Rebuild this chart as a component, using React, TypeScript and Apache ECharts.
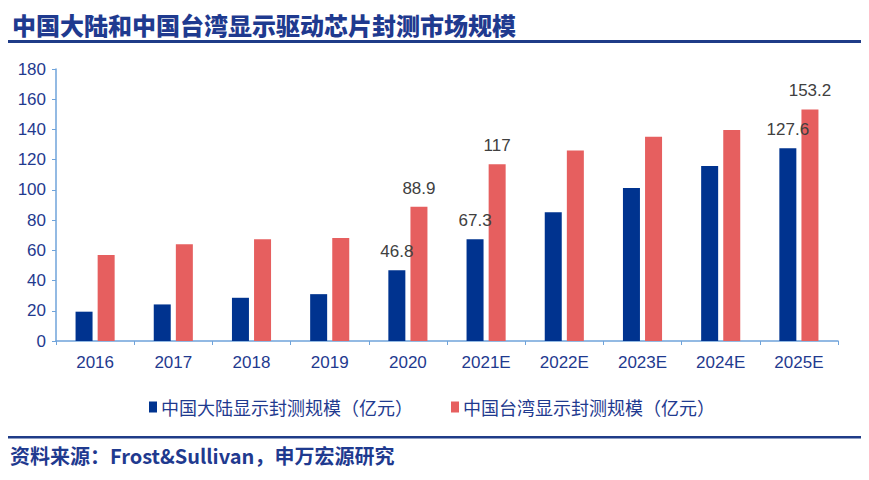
import React, { useEffect, useRef } from "react";
import * as echarts from "echarts";

const categories = ["2016", "2017", "2018", "2019", "2020", "2021E", "2022E", "2023E", "2024E", "2025E"];
const mainlandValues = [19.4, 24.2, 28.6, 31, 46.8, 67.3, 85.2, 101.3, 115.8, 127.6];
const taiwanValues = [56.9, 64, 67.3, 68.2, 88.9, 117, 126, 135.2, 139.6, 153.2];
const labeledIndices = [4, 5, 9];
const seriesNames = ["中国大陆显示封测规模（亿元）", "中国台湾显示封测规模（亿元）"];
const yTicks = { min: 0, max: 180, interval: 20 };
const titleText = "中国大陆和中国台湾显示驱动芯片封测市场规模";
const sourceText = "资料来源：Frost&Sullivan，申万宏源研究";

const BLUE = "#00338F";
const RED = "#E65F5F";
const TEXT_BLUE = "#1F3A8F";
const AXIS = "#6FA3DA";

export default function App() {
  const ref = useRef<HTMLDivElement>(null);
  useEffect(() => {
    if (!ref.current) return;
    const chart = echarts.init(ref.current, null, { renderer: "svg" });
    const mk = (vals: number[]) =>
      vals.map((v, i) => ({
        value: v,
        label: { show: labeledIndices.includes(i) },
      }));
    const labelStyle = {
      position: "top",
      distance: 10,
      color: "#404040",
      fontSize: 17,
      fontFamily: "Liberation Sans, Arial, sans-serif",
    };
    chart.setOption({
      animation: false,
      backgroundColor: "#fff",
      grid: { left: 56, right: 31, top: 69, bottom: 139 },
      title: {
        text: titleText,
        left: 7,
        top: 7,
        textStyle: {
          color: TEXT_BLUE,
          fontSize: 24,
          fontWeight: 900,
          fontFamily: "Noto Sans CJK SC",
        },
      },
      legend: {
        left: 144,
        top: 393,
        itemWidth: 8,
        itemHeight: 11,
        itemGap: 38,
        icon: "rect",
        textStyle: {
          color: TEXT_BLUE,
          fontSize: 18,
          fontFamily: "Noto Sans CJK SC",
          padding: [0, 0, 0, -1],
        },
        data: seriesNames,
      },
      xAxis: {
        type: "category",
        data: categories,
        axisLine: { lineStyle: { color: AXIS, width: 1.5 } },
        axisTick: { show: true, length: 4, lineStyle: { color: AXIS } },
        axisLabel: {
          color: TEXT_BLUE,
          fontSize: 17,
          margin: 13,
          fontFamily: "Liberation Sans, Arial, sans-serif",
        },
      },
      yAxis: {
        type: "value",
        min: yTicks.min,
        max: yTicks.max,
        interval: yTicks.interval,
        splitLine: { show: false },
        axisLine: { show: true, lineStyle: { color: AXIS, width: 1.5 } },
        axisTick: { show: true, length: 4, lineStyle: { color: AXIS } },
        axisLabel: {
          color: TEXT_BLUE,
          fontSize: 17,
          margin: 10,
          fontFamily: "Liberation Sans, Arial, sans-serif",
        },
      },
      series: [
        {
          name: seriesNames[0],
          type: "bar",
          barWidth: 17,
          barGap: "30%",
          itemStyle: { color: BLUE },
          label: labelStyle,
          data: mk(mainlandValues),
          z: 3,
        },
        {
          name: seriesNames[1],
          type: "bar",
          barWidth: 17,
          barGap: "30%",
          itemStyle: { color: RED },
          label: labelStyle,
          data: mk(taiwanValues),
          z: 2,
        },
      ],
      graphic: [
        {
          type: "rect",
          left: 0,
          top: 40,
          shape: { width: 869, height: 3 },
          style: { fill: "#1F3C88" },
        },
        {
          type: "rect",
          left: 0,
          top: 436,
          shape: { width: 869, height: 2.5 },
          style: { fill: "#1F3C88" },
        },
        {
          type: "text",
          left: 10,
          top: 445,
          style: {
            text: sourceText,
            fill: TEXT_BLUE,
            fontSize: 20,
            fontWeight: "bold",
            fontFamily: "Noto Sans CJK SC",
          },
        },
      ],
    });
    return () => chart.dispose();
  }, []);
  return <div ref={ref} style={{ width: 869, height: 480, margin: -8 }} />;
}
